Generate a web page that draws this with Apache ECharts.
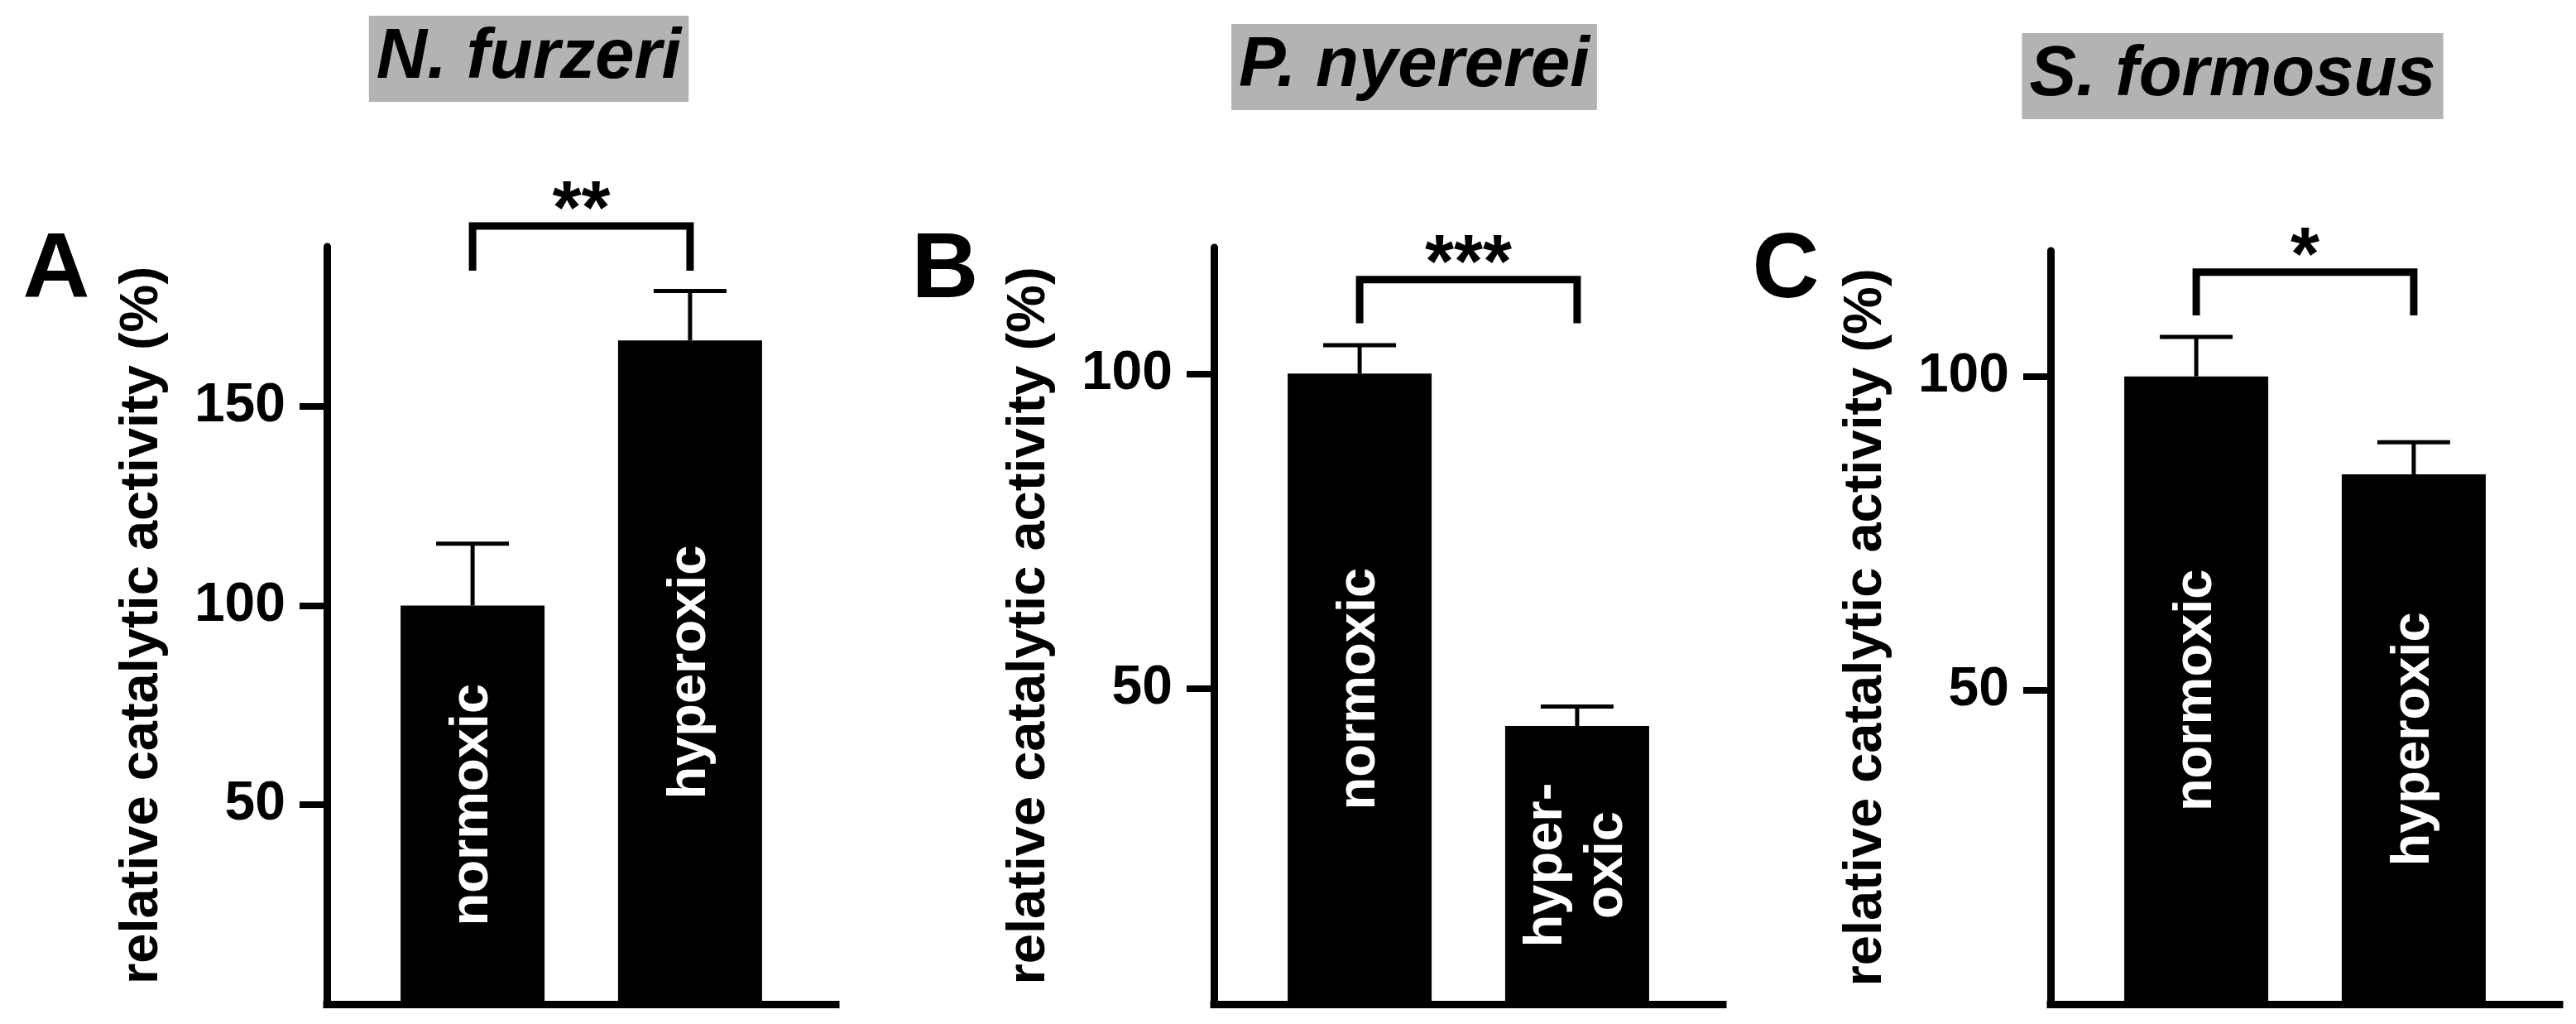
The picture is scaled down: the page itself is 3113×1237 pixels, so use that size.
<!DOCTYPE html>
<html>
<head>
<meta charset="utf-8">
<script src="https://cdn.jsdelivr.net/npm/echarts@6/dist/echarts.min.js"></script>
<style>
html, body { margin: 0; padding: 0; background: #fff; }
#main { width: 3113px; height: 1237px; }
</style>
</head>
<body>
<div id="main"></div>
<script>
// data
var species = ['N. furzeri', 'P. nyererei', 'S. formosus'];
var panelLetters = ['A', 'B', 'C'];
var barLabels = [
	['normoxic', 'hyperoxic'],
	['normoxic', 'hyper-\noxic'],
	['normoxic', 'hyperoxic']
];
var meanA = [100, 166.5];
var errA = [15.5, 12.4];
var meanB = [100, 44.1];
var errB = [4.5, 3.1];
var meanC = [100, 84.4];
var errC = [6.3, 5.1];
var yMax = [190, 120, 120];
var yTicks = [[50, 100, 150], [50, 100], [50, 100]];
var stars = ['**', '***', '*'];
var bracketTop = [195.2, 114.9, 116.6];
var bracketFoot = [184.0, 108.0, 109.7];

var means = [meanA, meanB, meanC];
var errs = [errA, errB, errC];

var FONT = 'Liberation Sans';
var gridLeft = [395, 1467, 2478];
var gridTop = [298, 299, 303];
var titleX = [639, 1709, 2698];
var titleY = [71, 81, 92];
var letterX = [68, 1142, 2158];

var myChart = echarts.init(document.getElementById('main'));

var grids = [], xAxes = [], yAxes = [], series = [], graphics = [];

for (var i = 0; i < 3; i++) {
	grids.push({ left: gridLeft[i], top: gridTop[i], width: 615, bottom: 24 });

	xAxes.push({
		gridIndex: i,
		type: 'value',
		min: 0.33,
		max: 2.67,
		axisLine: { show: true, lineStyle: { color: '#000', width: 9, cap: 'square' } },
		axisTick: { show: false },
		axisLabel: { show: false },
		splitLine: { show: false }
	});

	yAxes.push({
		gridIndex: i,
		type: 'value',
		min: 0,
		max: yMax[i],
		name: 'relative catalytic activity (%)',
		nameLocation: 'middle',
		nameRotate: 90,
		nameGap: 190,
		nameTextStyle: { fontSize: 65, fontWeight: 'bold', color: '#000', fontFamily: FONT },
		axisLine: { show: true, lineStyle: { color: '#000', width: 9 } },
		axisTick: { show: true, length: 33, lineStyle: { color: '#000', width: 8 }, customValues: yTicks[i] },
		axisLabel: { show: true, margin: 50, fontSize: 66, fontWeight: 'bold', color: '#000', fontFamily: FONT, customValues: yTicks[i] },
		splitLine: { show: false }
	});

	// bars
	series.push({
		type: 'bar',
		xAxisIndex: i,
		yAxisIndex: i,
		barWidth: 174,
		itemStyle: { color: '#000' },
		label: {
			show: true,
			position: 'inside',
			rotate: 90,
			color: '#fff',
			fontSize: 65,
			fontWeight: 'bold',
			fontFamily: FONT,
			lineHeight: 73
		},
		data: means[i].map(function(v, j) {
			return { value: [j + 1, v], label: { formatter: barLabels[i][j] } };
		}),
		z: 2
	});

	// error bars (upper only)
	series.push({
		type: 'custom',
		xAxisIndex: i,
		yAxisIndex: i,
		data: means[i].map(function(v, j) { return [j + 1, v, v + errs[i][j]]; }),
		renderItem: function(params, api) {
			var base = api.coord([api.value(0), api.value(1)]);
			var top = api.coord([api.value(0), api.value(2)]);
			var style = { stroke: '#000', lineWidth: 5 };
			return {
				type: 'group',
				children: [
					{ type: 'line', shape: { x1: top[0], y1: base[1], x2: top[0], y2: top[1] }, style: style },
					{ type: 'line', shape: { x1: top[0] - 44, y1: top[1], x2: top[0] + 44, y2: top[1] }, style: style }
				]
			};
		},
		z: 3
	});

	// significance bracket
	series.push({
		type: 'custom',
		xAxisIndex: i,
		yAxisIndex: i,
		clip: false,
		data: [[1, 2, bracketTop[i], bracketFoot[i], i]],
		renderItem: function(params, api) {
			var l = api.coord([api.value(0), api.value(3)]);
			var lt = api.coord([api.value(0), api.value(2)]);
			var rt = api.coord([api.value(1), api.value(2)]);
			var r = api.coord([api.value(1), api.value(3)]);
			return {
				type: 'group',
				children: [
					{
						type: 'polyline',
						shape: { points: [l, lt, rt, r] },
						style: { stroke: '#000', lineWidth: 9, fill: null, lineJoin: 'miter' }
					},
					{
						type: 'text',
						style: {
							text: stars[api.value(4)],
							x: (lt[0] + rt[0]) / 2,
							y: lt[1] + 29,
							align: 'center',
							verticalAlign: 'bottom',
							fontSize: 90,
							fontWeight: 'bold',
							fontFamily: FONT,
							fill: '#000'
						}
					}
				]
			};
		},
		z: 3
	});

	graphics.push({
		type: 'text',
		x: titleX[i],
		y: titleY[i],
		style: {
			text: species[i],
			align: 'center',
			verticalAlign: 'middle',
			fontSize: 85,
			fontWeight: 'bold',
			fontStyle: 'italic',
			fontFamily: FONT,
			fill: '#000',
			backgroundColor: '#b3b3b3',
			padding: [11, 9, 9, 9],
			lineHeight: 84
		}
	});

	graphics.push({
		type: 'text',
		x: letterX[i],
		y: 328,
		style: {
			text: panelLetters[i],
			align: 'center',
			verticalAlign: 'middle',
			fontSize: 112,
			fontWeight: 'bold',
			fontFamily: FONT,
			fill: '#000'
		}
	});
}

myChart.setOption({
	backgroundColor: '#fff',
	animation: false,
	grid: grids,
	xAxis: xAxes,
	yAxis: yAxes,
	series: series,
	graphic: graphics
});
</script>
</body>
</html>
